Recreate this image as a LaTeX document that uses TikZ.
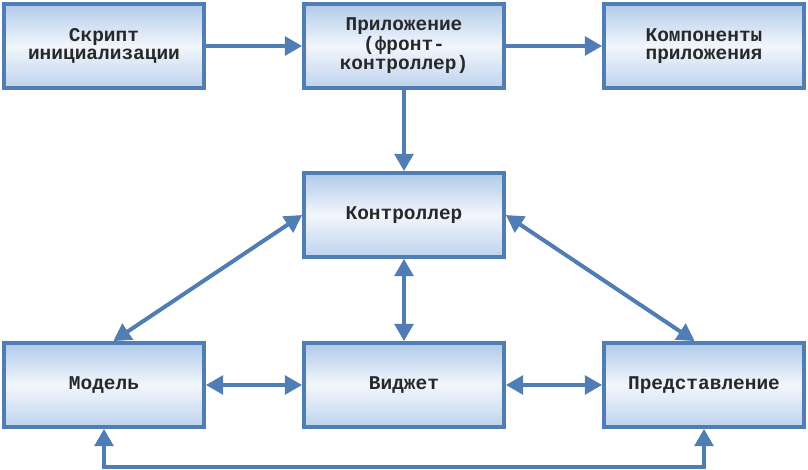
\documentclass[tikz,border=0pt]{standalone}
\usepackage{fontspec}
\setmonofont{Liberation Mono}
\usetikzlibrary{arrows.meta}
\definecolor{mvcLine}{RGB}{79,125,180}
\definecolor{mvcTop}{RGB}{176,202,234}
\definecolor{mvcMid}{RGB}{242,246,252}
\definecolor{mvcBot}{RGB}{190,211,238}
\definecolor{mvcText}{RGB}{40,40,40}
\tikzset{
	block/.style={draw=mvcLine,line width=2.8pt,top color=mvcTop,bottom color=mvcBot,middle color=mvcMid,
		minimum width=150pt,minimum height=63pt,inner sep=2pt,align=center,text=mvcText,
		font=\ttfamily\bfseries\fontsize{14.6}{13.6}\selectfont},
	link/.style={draw=mvcLine,line width=3pt,-{Triangle[length=13pt,width=14pt]}},
	biLink/.style={link,{Triangle[length=13pt,width=14pt]}-{Triangle[length=13pt,width=14pt]}}
}

\begin{document}
\begin{tikzpicture}[x=0.75pt,y=-0.75pt]
		\useasboundingbox (0,0) rectangle (808,470);
		\node[block] (init) at (104,46) {Скрипт\\инициализации};
		\node[block] (app) at (404,46) {Приложение\\(фронт-\\контроллер)};
		\node[block] (comp) at (704,46) {Компоненты\\приложения};
		\node[block] (ctrl) at (404,215) {Контроллер};
		\node[block] (model) at (104,385) {Модель};
		\node[block] (widget) at (404,385) {Виджет};
		\node[block] (view) at (704,385) {Представление};
		\coordinate (bus) at (404,467);
		\draw[link] (init) -- (app);
		\draw[link] (app) -- (comp);
		\draw[link] (app) -- (ctrl);
		\draw[biLink] (ctrl.west) -- ([xshift=7pt]model.north);
		\draw[biLink] (ctrl.east) -- ([xshift=-7pt]view.north);
		\draw[biLink] (ctrl) -- (widget);
		\draw[biLink] (model) -- (widget);
		\draw[biLink] (widget) -- (view);
		\draw[biLink] (model.south) |- (bus) -| (view.south);
\end{tikzpicture}
\end{document}
